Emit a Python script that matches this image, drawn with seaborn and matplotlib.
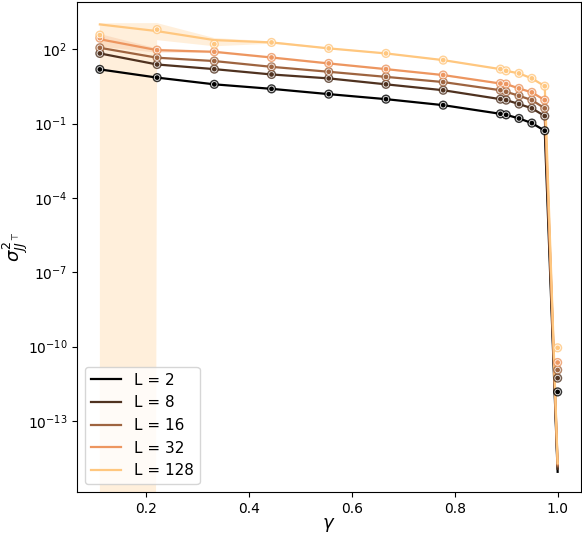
import numpy as np
import pandas as pd
import matplotlib
matplotlib.use("Agg")
import matplotlib.pyplot as plt
import seaborn as sns

# ---- data ----
gammas = [1/9, 2/9, 3/9, 4/9, 5/9, 6/9, 7/9, 8/9, 0.9, 0.925, 0.95, 0.975, 1.0]
L_values = [2, 8, 16, 32, 128]

# scatter points (per L)
pts_L2 = [15.2, 7.1, 3.8, 2.5, 1.53, 0.96, 0.55, 0.246, 0.224, 0.16, 0.104, 0.051, 1.5e-12]
pts_L8 = [67, 24, 15.6, 9.5, 6.6, 3.8, 2.2, 0.96, 0.88, 0.61, 0.41, 0.20, 5.4e-12]
pts_L16 = [113, 45, 33, 19.3, 12.2, 7.6, 4.7, 2.2, 1.9, 1.31, 0.88, 0.41, 1.15e-11]
pts_L32 = [278, 91, 78, 46, 26.5, 15.6, 9.0, 4.1, 3.9, 2.6, 1.8, 0.88, 2.3e-11]
pts_L128 = [367, 611, 159, 186, 107, 67, 36, 15.6, 13.3, 10.5, 6.6, 3.2, 9e-11]

# mean lines (per L)
mean_L2 = [15.2, 7.1, 3.8, 2.5, 1.53, 0.96, 0.55, 0.246, 0.224, 0.16, 0.104, 0.051, 9e-16]
mean_L8 = [67, 24, 15.6, 9.5, 6.6, 3.8, 2.2, 0.96, 0.88, 0.61, 0.41, 0.20, 1.2e-15]
mean_L16 = [113, 45, 33, 19.3, 12.2, 7.6, 4.7, 2.2, 1.9, 1.31, 0.88, 0.41, 1.5e-15]
mean_L32 = [250, 91, 78, 46, 26.5, 15.6, 9.0, 4.1, 3.9, 2.6, 1.8, 0.88, 1.8e-15]
mean_L128 = [990, 532, 231, 186, 107, 67, 36, 15.6, 13.3, 10.5, 6.6, 3.2, 2e-15]

# confidence band for L = 128 and L = 32
band_lo_L128 = [0, 230, 130, 165, 100, 63, 34, 14.8, 12.6, 10.0, 6.3, 3.05, 1.9e-15]
band_hi_L128 = [1100, 1120, 280, 205, 114, 71, 38, 16.4, 14.0, 11.0, 6.9, 3.35, 2.1e-15]
band_lo_L32 = [130, 75, 72, 43, 25, 14.9, 8.6, 3.9, 3.7, 2.5, 1.72, 0.84, 1.7e-15]
band_hi_L32 = [420, 110, 84, 49, 28, 16.3, 9.4, 4.3, 4.1, 2.7, 1.88, 0.92, 1.9e-15]

pts = {2: pts_L2, 8: pts_L8, 16: pts_L16, 32: pts_L32, 128: pts_L128}
means = {2: mean_L2, 8: mean_L8, 16: mean_L16, 32: mean_L32, 128: mean_L128}

colors = [plt.cm.copper(v) for v in np.linspace(0, 1, len(L_values))]
palette = {L: c for L, c in zip(L_values, colors)}

df_line = pd.DataFrame([
    {"gamma": g, "val": v, "L": f"L = {L}"}
    for L in L_values for g, v in zip(gammas, means[L])
])
df_pts = pd.DataFrame([
    {"gamma": g, "val": v, "L": f"L = {L}"}
    for L in L_values for g, v in zip(gammas, pts[L])
])
pal_lbl = {f"L = {L}": palette[L] for L in L_values}

fig = plt.figure(figsize=(5.82, 5.36), dpi=100)
ax = fig.add_axes([77 / 582, 1 - 492 / 536, (580.5 - 77) / 582, (492 - 2) / 536])

ax.fill_between(gammas, band_lo_L128, band_hi_L128, color=palette[128], alpha=0.28, lw=0)
ax.fill_between(gammas, band_lo_L32, band_hi_L32, color=palette[32], alpha=0.2, lw=0)

sns.lineplot(data=df_line, x="gamma", y="val", hue="L", palette=pal_lbl,
             errorbar=None, lw=1.6, ax=ax)
sns.scatterplot(data=df_pts, x="gamma", y="val", hue="L", palette=pal_lbl,
                s=44, edgecolor="none", alpha=0.8, legend=False, ax=ax, zorder=3)
sns.scatterplot(data=df_pts, x="gamma", y="val", hue="L", palette=pal_lbl,
                s=16, edgecolor="white", linewidth=0.6, alpha=0.9, legend=False,
                ax=ax, zorder=4)

ax.set_yscale("log")
ax.set_ylim(10 ** -15.86, 10 ** 3.9)
ax.set_xlim(0.0667, 1.0444)
ax.set_xlabel(r"$\gamma$", fontsize=13, labelpad=0)
ax.set_ylabel(r"$\sigma^2_{JJ^\top}$", fontsize=13, labelpad=-2)
ax.tick_params(labelsize=10)
ax.legend(loc="lower left", fontsize=11, title=None)

fig.savefig("out.png", dpi=100)
